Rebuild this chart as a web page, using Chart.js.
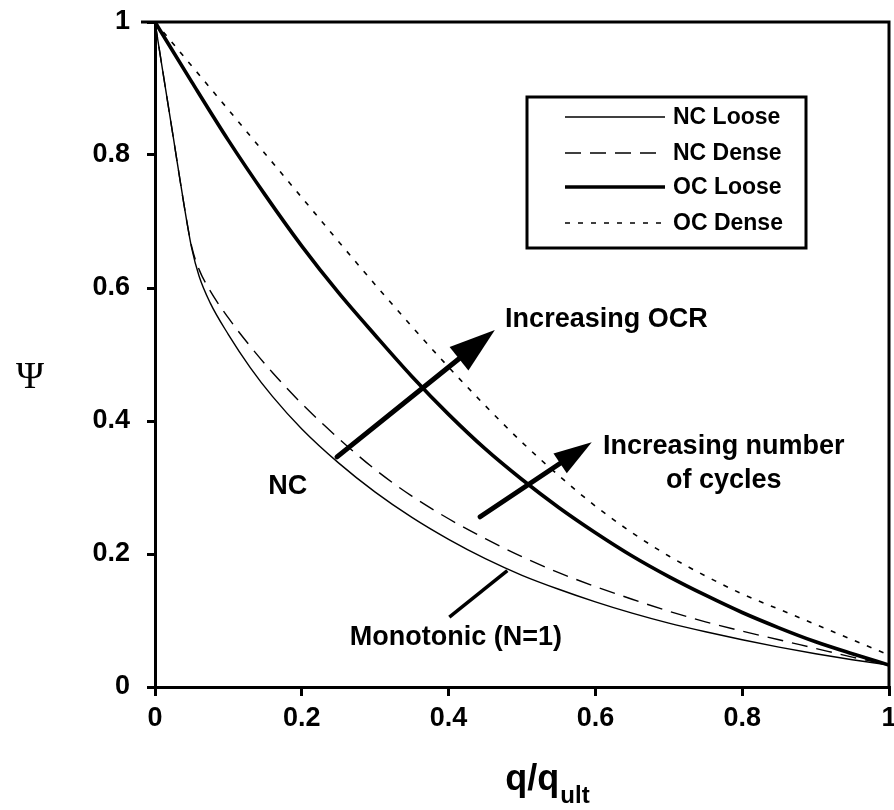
<!DOCTYPE html>
<html>
<head>
<meta charset="utf-8">
<script src="https://cdn.jsdelivr.net/npm/chart.js@4.4.1/dist/chart.umd.min.js"></script>
<style>
  html, body { margin: 0; padding: 0; background: #fff; }
  #wrap { width: 894px; height: 810px; }
</style>
</head>
<body>
<div id="wrap"><canvas id="c" width="894" height="810"></canvas></div>
<script>
// ---- data ----
const qNC = [0, 0.01, 0.025, 0.04, 0.05, 0.06, 0.075, 0.1, 0.13, 0.16, 0.2, 0.25, 0.3, 0.35, 0.4,
             0.45, 0.5, 0.55, 0.6, 0.65, 0.7, 0.75, 0.8, 0.85, 0.9, 0.95, 1.0];
const ncLoose = [1, 0.93, 0.826, 0.722, 0.66, 0.618, 0.578, 0.53, 0.48, 0.437, 0.388, 0.337, 0.293, 0.255, 0.222,
                 0.193, 0.168, 0.147, 0.128, 0.111, 0.096, 0.083, 0.071, 0.06, 0.05, 0.041, 0.033];
const ncDense = [1, 0.93, 0.826, 0.722, 0.662, 0.628, 0.596, 0.555, 0.512, 0.473, 0.426, 0.374, 0.327, 0.287, 0.253,
                 0.223, 0.196, 0.172, 0.151, 0.132, 0.114, 0.098, 0.084, 0.071, 0.058, 0.045, 0.033];
const qOC = [0, 0.05, 0.1, 0.15, 0.2, 0.25, 0.3, 0.35, 0.4, 0.45, 0.5,
             0.55, 0.6, 0.65, 0.7, 0.75, 0.8, 0.85, 0.9, 0.95, 1.0];
const ocLoose = [1, 0.91, 0.822, 0.74, 0.663, 0.593, 0.529, 0.467, 0.41, 0.358, 0.312,
                 0.27, 0.232, 0.197, 0.166, 0.138, 0.112, 0.089, 0.068, 0.05, 0.033];
const ocDense = [1, 0.934, 0.868, 0.802, 0.736, 0.67, 0.605, 0.542, 0.481, 0.423, 0.368,
                 0.318, 0.272, 0.232, 0.197, 0.167, 0.14, 0.117, 0.094, 0.071, 0.048];
const seriesNames = ["NC Loose", "NC Dense", "OC Loose", "OC Dense"];
const xTicks = [0, 0.2, 0.4, 0.6, 0.8, 1];
const yTicks = [0, 0.2, 0.4, 0.6, 0.8, 1];

// ---- styling / annotations (positions in data units) ----
const FONT = "'Liberation Sans', Arial, sans-serif";
const styles = [
  { width: 1.4, dash: [] },
  { width: 1.4, dash: [16, 9] },
  { width: 3.6, dash: [] },
  { width: 1.6, dash: [5, 8] }
];
const arrows = [
  { from: [0.248, 0.346], to: [0.463, 0.537], w: 5, headLen: 46, headW: 30 },
  { from: [0.443, 0.256], to: [0.595, 0.368], w: 5, headLen: 38, headW: 24 }
];
const pointer = { from: [0.401, 0.105], to: [0.48, 0.175], w: 3.5 };
const labels = [
  { text: "Increasing OCR", at: [0.477, 0.552], align: "left" },
  { text: "Increasing number", at: [0.775, 0.361], align: "center" },
  { text: "of cycles", at: [0.775, 0.311], align: "center" },
  { text: "NC", at: [0.181, 0.301], align: "center" },
  { text: "Monotonic (N=1)", at: [0.41, 0.074], align: "center" }
];

const pts = (xs, ys) => xs.map((q, i) => ({ x: q, y: ys[i] }));
const allSeries = [[qNC, ncLoose], [qNC, ncDense], [qOC, ocLoose], [qOC, ocDense]];

const datasets = allSeries.map(([xs, ys], i) => ({
  label: seriesNames[i],
  data: pts(xs, ys),
  borderColor: "#000",
  backgroundColor: "#000",
  borderWidth: styles[i].width,
  borderDash: styles[i].dash,
  pointRadius: 0,
  fill: false,
  cubicInterpolationMode: "monotone",
  tension: 0.4
}));

const overlay = {
  id: "overlay",
  afterDatasetsDraw(chart) {
    const ctx = chart.ctx;
    const xs = chart.scales.x, ys = chart.scales.y;
    const P = a => [xs.getPixelForValue(a[0]), ys.getPixelForValue(a[1])];
    const ca = chart.chartArea;
    ctx.save();
    // frame (top + right)
    ctx.strokeStyle = "#000";
    ctx.lineWidth = 3;
    ctx.beginPath();
    ctx.moveTo(ca.left - 14, ca.top);
    ctx.lineTo(ca.right, ca.top);
    ctx.lineTo(ca.right, ca.bottom);
    ctx.stroke();

    // arrows
    ctx.fillStyle = "#000";
    arrows.forEach(a => {
      const [x1, y1] = P(a.from), [x2, y2] = P(a.to);
      const ang = Math.atan2(y2 - y1, x2 - x1);
      const bx = x2 - a.headLen * Math.cos(ang), by = y2 - a.headLen * Math.sin(ang);
      ctx.lineWidth = a.w;
      ctx.lineCap = "round";
      ctx.beginPath(); ctx.moveTo(x1, y1); ctx.lineTo(bx + 2 * Math.cos(ang), by + 2 * Math.sin(ang)); ctx.stroke();
      const nx = -Math.sin(ang), ny = Math.cos(ang);
      ctx.beginPath();
      ctx.moveTo(x2, y2);
      ctx.lineTo(bx + nx * a.headW / 2, by + ny * a.headW / 2);
      ctx.lineTo(bx - nx * a.headW / 2, by - ny * a.headW / 2);
      ctx.closePath(); ctx.fill();
    });
    // pointer line
    {
      const [x1, y1] = P(pointer.from), [x2, y2] = P(pointer.to);
      ctx.lineWidth = pointer.w; ctx.lineCap = "butt";
      ctx.beginPath(); ctx.moveTo(x1, y1); ctx.lineTo(x2, y2); ctx.stroke();
    }
    // text labels
    ctx.font = "bold 27px " + FONT;
    ctx.textBaseline = "middle";
    labels.forEach(l => {
      const [x, y] = P(l.at);
      ctx.textAlign = l.align;
      ctx.fillText(l.text, x, y);
    });

    // legend
    const lx0 = 527, ly0 = 97, lx1 = 806, ly1 = 248;
    ctx.fillStyle = "#fff";
    ctx.fillRect(lx0, ly0, lx1 - lx0, ly1 - ly0);
    ctx.lineWidth = 3; ctx.setLineDash([]);
    ctx.strokeRect(lx0, ly0, lx1 - lx0, ly1 - ly0);
    const rows = [117, 153, 187, 223];
    ctx.font = "bold 23px " + FONT;
    ctx.textAlign = "left";
    ctx.fillStyle = "#000";
    datasets.forEach((d, i) => {
      ctx.lineWidth = d.borderWidth;
      ctx.setLineDash(d.borderDash);
      ctx.lineCap = "butt";
      ctx.beginPath(); ctx.moveTo(565, rows[i]); ctx.lineTo(665, rows[i]); ctx.stroke();
      ctx.setLineDash([]);
      ctx.fillText(d.label, 673, rows[i] + 1);
    });

    // axis titles
    ctx.font = "38px 'Liberation Serif', 'Times New Roman', serif";
    ctx.textAlign = "center";
    ctx.fillText("\u03A8", 30, 378);
    ctx.textBaseline = "alphabetic";
    ctx.textAlign = "left";
    ctx.font = "bold 36px " + FONT;
    const main = "q/q";
    const mw = ctx.measureText(main).width;
    ctx.font = "bold 24px " + FONT;
    const sw = ctx.measureText("ult").width;
    const tx = 547 - (mw + sw) / 2;
    ctx.font = "bold 36px " + FONT;
    ctx.fillText(main, tx, 790);
    ctx.font = "bold 24px " + FONT;
    ctx.fillText("ult", tx + mw + 1, 803);
    ctx.restore();
  }
};

new Chart(document.getElementById("c"), {
  type: "line",
  data: { datasets },
  options: {
    responsive: false,
    animation: false,
    events: [],
    layout: { padding: { top: 22, right: 5, left: 0, bottom: 0 } },
    plugins: { legend: { display: false }, tooltip: { enabled: false } },
    scales: {
      x: {
        type: "linear", min: 0, max: 1,
        afterBuildTicks: s => { s.ticks = xTicks.map(v => ({ value: v })); },
        afterFit: s => { s.height = 123; s.paddingLeft = 0; s.paddingRight = 0; },
        border: { display: true, color: "#000", width: 3 },
        grid: { drawOnChartArea: false, drawTicks: true, tickLength: 9, color: "#000", lineWidth: 3, tickWidth: 3 },
        ticks: { color: "#000", padding: 6, maxRotation: 0, font: { family: FONT, size: 27, weight: "bold" },
                 callback: v => String(v) }
      },
      y: {
        type: "linear", min: 0, max: 1,
        afterBuildTicks: s => { s.ticks = yTicks.map(v => ({ value: v })); },
        afterFit: s => { s.width = 155; s.paddingTop = 0; s.paddingBottom = 0; },
        border: { display: true, color: "#000", width: 3 },
        grid: { drawOnChartArea: false, drawTicks: true, tickLength: 8, color: "#000", lineWidth: 3, tickWidth: 3 },
        ticks: { color: "#000", padding: 17, font: { family: FONT, size: 27, weight: "bold" },
                 callback: v => String(v) }
      }
    }
  },
  plugins: [overlay]
});
</script>
</body>
</html>
